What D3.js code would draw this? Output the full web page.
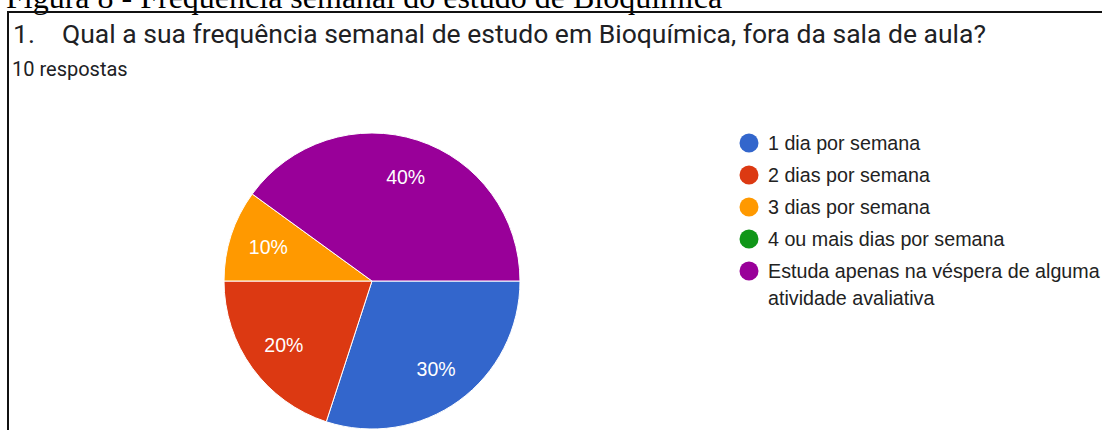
<!DOCTYPE html>
<html>
<head>
<meta charset="utf-8">
<script src="https://cdn.jsdelivr.net/npm/d3@7"></script>
<style>
  html, body { margin: 0; padding: 0; background: #fff; }
  svg { display: block; }
</style>
</head>
<body>
<div id="chart"></div>
<script>
const categories = [
  '1 dia por semana',
  '2 dias por semana',
  '3 dias por semana',
  '4 ou mais dias por semana',
  'Estuda apenas na véspera de alguma atividade avaliativa'
];
const legendLines = [
  ['1 dia por semana'],
  ['2 dias por semana'],
  ['3 dias por semana'],
  ['4 ou mais dias por semana'],
  ['Estuda apenas na véspera de alguma', 'atividade avaliativa']
];
const counts = [3, 2, 1, 0, 4];
const colours = ['#3366cc', '#dc3912', '#ff9900', '#109618', '#990099'];
const caption = 'Figura 8 - Frequência semanal do estudo de Bioquímica';
const question = 'Qual a sua frequência semanal de estudo em Bioquímica, fora da sala de aula?';
const responses = '10 respostas';

const width = 1102, height = 430;
const svg = d3.select('#chart').append('svg')
  .attr('width', width)
  .attr('height', height);

// caption above the box (cut by the top of the picture)
svg.append('text')
  .attr('x', 6).attr('y', 8)
  .attr('font-family', 'Liberation Serif, serif')
  .attr('font-size', 32)
  .attr('fill', '#000')
  .text(caption);

// box edges
svg.append('line').attr('x1', 7).attr('x2', width).attr('y1', 12).attr('y2', 12)
  .attr('stroke', '#111').attr('stroke-width', 2);
svg.append('line').attr('x1', 8).attr('x2', 8).attr('y1', 11).attr('y2', height)
  .attr('stroke', '#111').attr('stroke-width', 2);

svg.append('text')
  .attr('x', 13).attr('y', 43)
  .attr('font-family', 'Roboto, sans-serif')
  .attr('font-size', 26.5)
  .attr('fill', '#202124')
  .text('1.');
svg.append('text')
  .attr('x', 62).attr('y', 43)
  .attr('font-family', 'Roboto, sans-serif')
  .attr('font-size', 26.5)
  .attr('fill', '#202124')
  .text(question);
svg.append('text')
  .attr('x', 12).attr('y', 76)
  .attr('font-family', 'Roboto, sans-serif')
  .attr('font-size', 20)
  .attr('fill', '#202124')
  .text(responses);

// pie
const cx = 372, cy = 281, radius = 148;
const pie = d3.pie().sort(null)
  .startAngle(Math.PI / 2).endAngle(Math.PI / 2 + 2 * Math.PI)
  .value((d) => d);
const arcs = pie(counts);
const arc = d3.arc().innerRadius(0).outerRadius(radius);
const labelArc = d3.arc().innerRadius(109).outerRadius(109);

const g = svg.append('g').attr('transform', `translate(${cx}, ${cy})`);
g.selectAll('path')
  .data(arcs.filter((d) => d.value > 0))
  .enter().append('path')
  .attr('d', arc)
  .attr('fill', (d) => colours[d.index])
  .attr('stroke', '#fff')
  .attr('stroke-width', 1);

const total = d3.sum(counts);
g.selectAll('text')
  .data(arcs.filter((d) => d.value > 0))
  .enter().append('text')
  .attr('transform', (d) => `translate(${labelArc.centroid(d)})`)
  .attr('text-anchor', 'middle')
  .attr('dy', '0.36em')
  .attr('font-family', 'Liberation Sans, Arial, sans-serif')
  .attr('font-size', 19.5)
  .attr('fill', '#fff')
  .text((d) => d3.format('.0%')(d.value / total));

// legend
const legend = svg.append('g').attr('transform', 'translate(749, 143)');
const rows = legend.selectAll('g')
  .data(categories)
  .enter().append('g')
  .attr('transform', (d, i) => `translate(0, ${i * 32})`);
rows.append('circle')
  .attr('r', 9.5)
  .attr('fill', (d, i) => colours[i]);
rows.append('text')
  .attr('font-family', 'Liberation Sans, Arial, sans-serif')
  .attr('font-size', 19.7)
  .attr('fill', '#222')
  .selectAll('tspan')
  .data((d, i) => legendLines[i])
  .enter().append('tspan')
  .attr('x', 19)
  .attr('dy', (d, j) => j === 0 ? '0.36em' : 27)
  .text((d) => d);
</script>
</body>
</html>
